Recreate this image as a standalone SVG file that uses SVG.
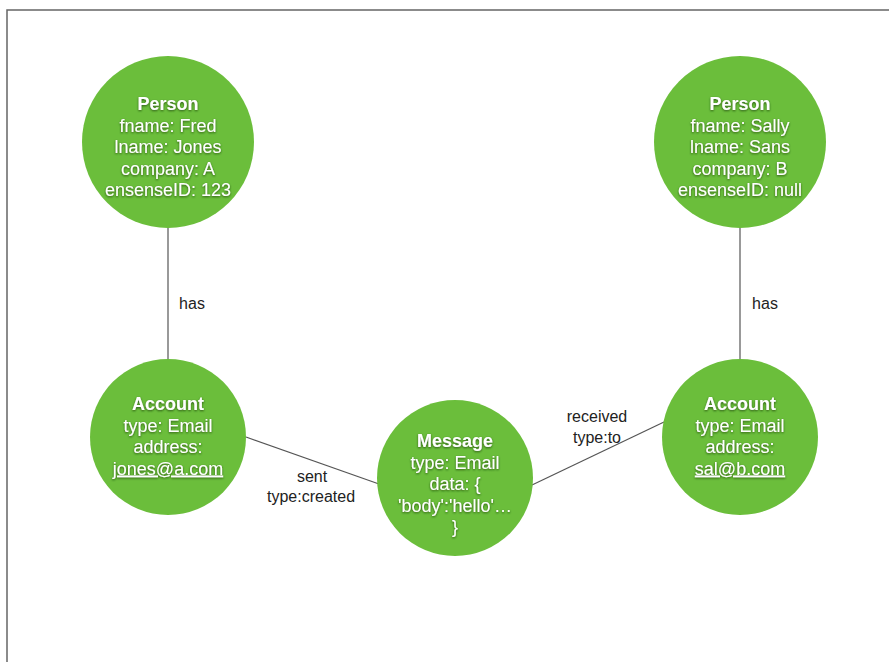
<svg xmlns="http://www.w3.org/2000/svg" width="889" height="662" viewBox="0 0 889 662">
  <style>
    .node { fill: #6bbe3b; }
    .ntxt { font-family: "Liberation Sans", Arial, sans-serif; font-size: 18px; fill: #ffffff; text-anchor: middle; filter: url(#shadow); }
    .ntitle { font-weight: bold; }
    .link { stroke: #555555; stroke-width: 1.2; fill: none; }
    .ltxt { font-family: "Liberation Sans", Arial, sans-serif; font-size: 16px; fill: #222222; text-anchor: middle; }
  </style>
  <defs>
    <filter id="shadow" x="-20%" y="-40%" width="140%" height="180%">
      <feDropShadow dx="0" dy="1" stdDeviation="0.8" flood-color="#1c3a0a" flood-opacity="0.8"/>
    </filter>
  </defs>

  <rect x="0" y="0" width="889" height="662" fill="#ffffff"/>
  <!-- frame -->
  <rect x="7" y="10" width="900" height="680" fill="none" stroke="#666666" stroke-width="1.5"/>

  <!-- connectors -->
  <g id="connectors">
    <line class="link" x1="168" y1="226" x2="168" y2="360"/>
    <line class="link" x1="740" y1="226" x2="740" y2="360"/>
    <line class="link" x1="246" y1="437" x2="379" y2="484"/>
    <line class="link" x1="532" y1="485" x2="664" y2="422"/>
    <text class="ltxt" x="192" y="309">has</text>
    <text class="ltxt" x="765" y="309">has</text>
    <text class="ltxt" x="312" y="482">sent</text>
    <text class="ltxt" x="311" y="502">type:created</text>
    <text class="ltxt" x="597" y="422">received</text>
    <text class="ltxt" x="597" y="443">type:to</text>
  </g>

  <g id="person-fred">
    <circle class="node" cx="168" cy="142" r="86"/>
    <text class="ntxt" x="168" y="110"><tspan class="ntitle">Person</tspan><tspan x="168" dy="21.5">fname: Fred</tspan><tspan x="168" dy="21.5">lname: Jones</tspan><tspan x="168" dy="21.5">company: A</tspan><tspan x="168" dy="21.5">ensenseID: 123</tspan></text>
  </g>

  <g id="person-sally">
    <circle class="node" cx="740" cy="142" r="86"/>
    <text class="ntxt" x="740" y="110"><tspan class="ntitle">Person</tspan><tspan x="740" dy="21.5">fname: Sally</tspan><tspan x="740" dy="21.5">lname: Sans</tspan><tspan x="740" dy="21.5">company: B</tspan><tspan x="740" dy="21.5">ensenseID: null</tspan></text>
  </g>

  <g id="account-jones">
    <circle class="node" cx="168" cy="437" r="78"/>
    <text class="ntxt" x="168" y="410"><tspan class="ntitle">Account</tspan><tspan x="168" dy="21.5">type: Email</tspan><tspan x="168" dy="21.5">address:</tspan><tspan x="168" dy="21.5" text-decoration="underline">jones@a.com</tspan></text>
  </g>

  <g id="message">
    <circle class="node" cx="455" cy="478" r="78"/>
    <text class="ntxt" x="455" y="447"><tspan class="ntitle">Message</tspan><tspan x="455" dy="21.5">type: Email</tspan><tspan x="455" dy="21.5">data: {</tspan><tspan x="455" dy="21.5">'body':'hello'…</tspan><tspan x="455" dy="21.5">}</tspan></text>
  </g>

  <g id="account-sal">
    <circle class="node" cx="740" cy="437" r="78"/>
    <text class="ntxt" x="740" y="410"><tspan class="ntitle">Account</tspan><tspan x="740" dy="21.5">type: Email</tspan><tspan x="740" dy="21.5">address:</tspan><tspan x="740" dy="21.5" text-decoration="underline">sal@b.com</tspan></text>
  </g>
</svg>
